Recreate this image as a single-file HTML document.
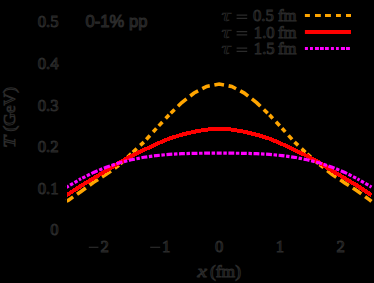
<!DOCTYPE html>
<html><head><meta charset="utf-8"><style>
html,body{margin:0;padding:0;background:#000;}
body{width:374px;height:283px;overflow:hidden;}
svg{display:block;}
text{font-family:"Liberation Serif",serif;fill:#000;stroke:#2b2b2b;stroke-width:0.95px;font-size:16.7px;}
.s{font-family:"Liberation Sans",sans-serif;font-size:16.6px;stroke-width:1px;fill:#101010;}
.i{font-style:italic;}
.t{stroke-width:0.55px;}
.m{stroke:#2b2b2b;stroke-width:1.2px;fill:none;}
</style></head><body>
<svg width="374" height="283" viewBox="0 0 374 283">
<rect width="374" height="283" fill="#000"/>
<g text-anchor="end">
<text x="58.6" y="27.4">0.5</text>
<text x="58.6" y="69">0.4</text>
<text x="58.6" y="110.6">0.3</text>
<text x="58.6" y="152.2">0.2</text>
<text x="58.6" y="193.8">0.1</text>
<text x="58.6" y="235.4">0</text>
</g>
<g text-anchor="middle">
<path class="m" d="M88.8,247.3H98.4"/>
<text x="104.7" y="252.3">2</text>
<path class="m" d="M150.2,247.3H160.2"/>
<text x="166.2" y="252.3">1</text>
<text x="219.2" y="252.3">0</text>
<text x="279.8" y="252.3">1</text>
<text x="340.6" y="252.3">2</text>
</g>
<text class="i" x="197.4" y="276.6" textLength="9.5" lengthAdjust="spacingAndGlyphs">x</text>
<text x="210" y="276.6" textLength="31" lengthAdjust="spacingAndGlyphs">(fm)</text>
<text class="i" transform="translate(14.8,148) rotate(-90)" textLength="12" lengthAdjust="spacingAndGlyphs">T</text>
<text transform="translate(14.8,131.5) rotate(-90)" textLength="44.5" lengthAdjust="spacingAndGlyphs">(GeV)</text>
<text class="s" x="85.6" y="27.2">0-1% pp</text>
<text x="221.5" y="21.2" class="i t" textLength="9" lengthAdjust="spacingAndGlyphs">τ</text>
<path class="m" d="M236.6,15.1H247.2M236.6,18.3H247.2"/>
<text x="253" y="21.2">0.5</text><text x="278" y="21.2">fm</text>
<text x="221.5" y="37.7" class="i t" textLength="9" lengthAdjust="spacingAndGlyphs">τ</text>
<path class="m" d="M236.6,31.6H247.2M236.6,34.8H247.2"/>
<text x="253.8" y="37.7">1.0</text><text x="278" y="37.7">fm</text>
<text x="221.5" y="54.2" class="i t" textLength="9" lengthAdjust="spacingAndGlyphs">τ</text>
<path class="m" d="M236.6,48.1H247.2M236.6,51.3H247.2"/>
<text x="253.8" y="54.2">1.5</text><text x="278" y="54.2">fm</text>
<g fill="none">
<path d="M304.9,15.5H351" stroke="#ffa500" stroke-width="3" stroke-dasharray="5 5.1 5.8 4.2 5.9 5.1 4.9 5.1 5 99"/>
<path d="M304.9,32H351" stroke="#ff0000" stroke-width="4"/>
<path d="M304.9,48.4H350" stroke="#ff00ff" stroke-width="3" stroke-dasharray="3 2.1 2.9 2.1 3.9 1.1 3.8 1.2 3.8 2.1 3 2.1 2.8 2.1 4.1 1 3.9 99"/>
<path d="M66.50,201.32 L68.48,200.12 L81.04,191.42 L93.60,182.35 L106.16,174.36 L118.72,165.30 L131.28,153.68 L143.84,142.07 L156.40,128.36 L168.96,114.90 L181.52,102.79 L194.08,92.98 L206.64,86.42 L219.20,84.04 L231.76,86.47 L244.32,93.05 L256.88,102.84 L269.44,114.86 L282.00,128.24 L294.56,142.09 L307.12,153.89 L319.68,164.68 L332.24,174.50 L344.80,182.89 L357.36,190.95 L369.92,200.14 L371.50,201.45" stroke="#ffa500" stroke-width="3.6" stroke-dasharray="0.00 0.00 7.99 4.70 10.79 4.70 10.19 4.70 10.79 4.70 4.90 2.11 5.40 4.70 4.90 2.10 5.40 4.70 4.90 3.60 5.40 4.70 4.90 3.41 5.40 4.70 4.90 2.45 5.40 4.70 11.23 4.70 9.47 4.70 8.08 4.70 9.80 4.70 8.09 4.70 9.48 4.70 11.22 4.70 5.40 2.39 4.90 4.70 5.40 3.35 4.90 4.70 5.40 3.69 4.90 4.70 5.40 2.23 4.90 4.70 5.40 1.56 4.90 4.70 11.25 4.70 10.40 4.70 10.22 4.70 8.01 1000.00"/>
<path d="M66.50,195.41 L68.48,194.04 L81.04,185.85 L93.60,178.21 L106.16,170.74 L118.72,163.11 L131.28,155.93 L143.84,150.03 L156.40,144.08 L168.96,138.65 L181.52,134.76 L194.08,131.74 L206.64,129.59 L219.20,128.76 L231.76,129.57 L244.32,131.73 L256.88,134.78 L269.44,138.63 L282.00,144.03 L294.56,150.09 L307.12,156.00 L319.68,162.86 L332.24,170.84 L344.80,178.31 L357.36,185.71 L369.92,194.12 L371.50,195.31" stroke="#ff0000" stroke-width="4" stroke-linejoin="round" shape-rendering="crispEdges"/>
<path d="M66.50,187.39 L68.48,186.12 L81.04,178.73 L93.60,172.44 L106.16,167.22 L118.72,163.02 L131.28,159.75 L143.84,157.29 L156.40,155.54 L168.96,154.38 L181.52,153.67 L194.08,153.32 L206.64,153.19 L219.20,153.18 L231.76,153.20 L244.32,153.32 L256.88,153.68 L269.44,154.38 L282.00,155.55 L294.56,157.30 L307.12,159.75 L319.68,163.01 L332.24,167.20 L344.80,172.43 L357.36,178.76 L369.92,186.09 L371.50,187.07" stroke="#ff00ff" stroke-width="3.2" stroke-dasharray="0.00 0.00 2.63 1.60 3.50 1.60 3.50 1.60 2.50 1.34 3.50 1.60 3.50 1.60 6.90 1.60 3.50 1.60 6.55 1.60 3.50 1.60 6.28 1.60 3.50 1.60 6.10 1.60 3.50 1.60 5.98 1.60 3.50 1.60 5.91 1.60 3.50 1.60 5.88 1.60 3.50 1.60 5.87 1.60 3.50 1.60 5.86 1.60 3.50 1.60 5.86 1.60 3.50 1.60 5.00 1.60 3.50 1.60 5.86 1.60 3.50 1.60 5.86 1.60 3.50 1.60 5.87 1.60 3.50 1.60 5.88 1.60 3.50 1.60 5.91 1.60 3.50 1.60 5.98 1.60 3.50 1.60 6.10 1.60 3.50 1.60 6.28 1.60 3.50 1.60 6.54 1.60 3.50 1.60 6.90 1.60 3.50 1.60 3.50 1.36 2.50 1.60 3.50 1.60 3.50 1.60 2.10 1000.00"/>
<path d="M66.5,0V230" stroke="#000" stroke-width="1"/>
</g>
</svg>
</body></html>
